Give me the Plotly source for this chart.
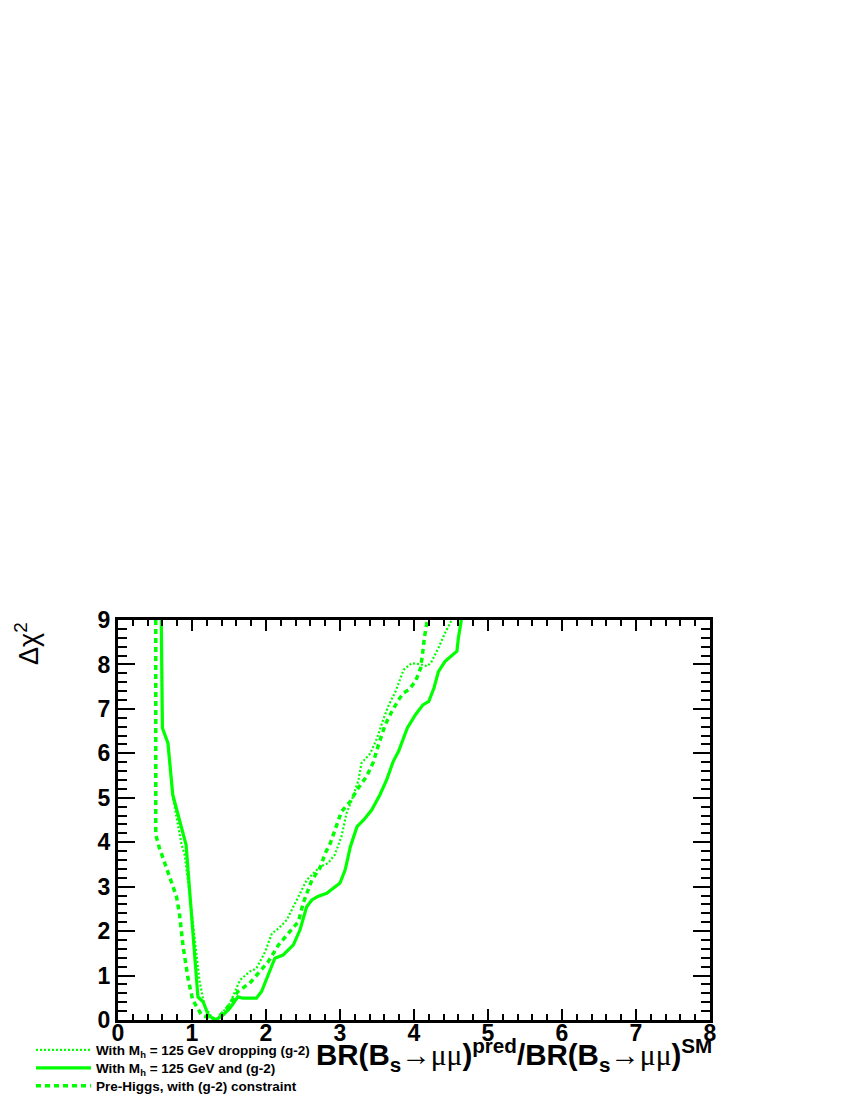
import plotly.graph_objects as go

# ---- data ----
solid_x = [0.585, 0.60, 0.675, 0.74, 0.92, 1.08, 1.15, 1.22, 1.31, 1.40, 1.51, 1.62, 1.69, 1.87,
           1.94, 2.12, 2.23, 2.37, 2.46, 2.55, 2.62, 2.70, 2.82, 3.0, 3.07, 3.14, 3.23, 3.32, 3.43,
           3.54, 3.63, 3.72, 3.79, 3.91, 4.02, 4.12, 4.20, 4.27, 4.33, 4.42, 4.58, 4.60, 4.64]
solid_y = [9.0, 6.57, 6.23, 5.07, 3.94, 0.52, 0.41, 0.11, 0.0, 0.08, 0.26, 0.52, 0.49, 0.49,
           0.64, 1.39, 1.46, 1.69, 2.03, 2.55, 2.70, 2.78, 2.85, 3.08, 3.38, 3.90, 4.35, 4.50, 4.73,
           5.07, 5.40, 5.82, 6.04, 6.57, 6.87, 7.09, 7.17, 7.47, 7.84, 8.07, 8.30, 8.60, 9.0]

dotted_x = [0.585, 0.60, 0.675, 0.74, 0.86, 0.90, 0.97, 1.05, 1.10, 1.17, 1.26, 1.33, 1.51, 1.65,
            1.78, 1.87, 1.99, 2.08, 2.17, 2.28, 2.37, 2.46, 2.55, 2.73, 2.84, 2.93, 3.02, 3.09,
            3.16, 3.25, 3.29, 3.41, 3.50, 3.59, 3.66, 3.75, 3.86, 3.97, 4.09, 4.18, 4.24, 4.33,
            4.42, 4.51]
dotted_y = [9.0, 6.57, 6.23, 5.03, 3.94, 3.72, 2.80, 1.60, 0.90, 0.30, 0.08, 0.0, 0.37, 0.90,
            1.09, 1.16, 1.54, 1.95, 2.06, 2.25, 2.55, 2.85, 3.15, 3.45, 3.53, 3.72, 4.13, 4.66,
            4.95, 5.40, 5.78, 6.00, 6.34, 6.79, 7.09, 7.39, 7.88, 8.03, 8.00, 7.96, 8.07, 8.37,
            8.71, 9.0]

dashed_x = [0.51, 0.51, 0.56, 0.72, 0.79, 0.83, 0.88, 0.95, 1.01, 1.13, 1.22, 1.32, 1.47, 1.62,
            1.78, 1.92, 2.03, 2.17, 2.30, 2.44, 2.50, 2.62, 2.73, 2.80, 2.87, 2.98, 3.02, 3.14,
            3.23, 3.36, 3.45, 3.52, 3.61, 3.70, 3.79, 3.86, 3.93, 4.02, 4.09, 4.12, 4.14, 4.18]
dashed_y = [9.0, 4.17, 3.87, 3.11, 2.78, 2.40, 1.65, 0.90, 0.45, 0.11, 0.05, 0.0, 0.26, 0.64,
            0.83, 1.09, 1.31, 1.69, 1.95, 2.22, 2.62, 3.15, 3.42, 3.75, 3.98, 4.50, 4.69, 4.92,
            5.18, 5.48, 5.80, 6.19, 6.64, 6.94, 7.20, 7.36, 7.43, 7.62, 7.92, 8.30, 8.60, 9.0]

names = ["With M<sub>h</sub> = 125 GeV dropping (g-2)",
         "With M<sub>h</sub> = 125 GeV and (g-2)",
         "Pre-Higgs, with (g-2) constraint"]

x_ticks = [0, 1, 2, 3, 4, 5, 6, 7, 8]
y_ticks = [0, 1, 2, 3, 4, 5, 6, 7, 8, 9]

GREEN = "#00ff00"
FONT = "Liberation Sans, Arial, sans-serif"

fig = go.Figure()
fig.add_trace(go.Scatter(x=dotted_x, y=dotted_y, mode="lines", name=names[0],
                         line=dict(color=GREEN, width=2.2, dash="2px,2px"), legend="legend"))
fig.add_trace(go.Scatter(x=solid_x, y=solid_y, mode="lines", name=names[1],
                         line=dict(color=GREEN, width=3.2), legend="legend2"))
fig.add_trace(go.Scatter(x=dashed_x, y=dashed_y, mode="lines", name=names[2],
                         line=dict(color=GREEN, width=3.5, dash="5px,4px"), legend="legend3"))

# page body margin of the html page is 8px; the figure is laid out in its own pixel frame
W, H = 834, 1090
L, T = 110, 612
pw, ph = 592, 400
R, B = W - L - pw, H - T - ph

def fx(p):  # figure-pixel x -> paper x
    return (p - L) / pw

def fy(p):  # figure-pixel y -> paper y
    return (T + ph - p) / ph

legfont = dict(family=FONT, size=13.5, color="black", weight="bold")
leg_common = dict(font=legfont, bgcolor="rgba(0,0,0,0)", borderwidth=0,
                  xanchor="left", yanchor="middle", itemwidth=55)

fig.update_layout(
    width=W, height=H,
    margin=dict(l=L, r=R, t=T, b=B, autoexpand=False),
    paper_bgcolor="white", plot_bgcolor="white",
    showlegend=True,
    legend=dict(x=fx(23), y=fy(1042), **leg_common),
    legend2=dict(x=fx(23), y=fy(1060), **leg_common),
    legend3=dict(x=fx(23), y=fy(1078), **leg_common),
    xaxis=dict(range=[0, 8], tickvals=x_ticks, ticks="inside", ticklen=11, tickwidth=2,
               tickcolor="black", showline=True, linewidth=3, linecolor="black",
               mirror="allticks", showgrid=False, zeroline=False,
               minor=dict(dtick=0.2, ticks="inside", ticklen=6, tickwidth=2, tickcolor="black",
                          showgrid=False),
               ticklabelstandoff=-10,
               tickfont=dict(family=FONT, size=23, color="black", weight="bold")),
    yaxis=dict(range=[0, 9], tickvals=y_ticks, ticks="inside", ticklen=17, tickwidth=2,
               tickcolor="black", showline=True, linewidth=3, linecolor="black",
               mirror="allticks", showgrid=False, zeroline=False,
               minor=dict(dtick=0.2, ticks="inside", ticklen=9, tickwidth=2, tickcolor="black",
                          showgrid=False),
               ticklabelstandoff=0,
               tickfont=dict(family=FONT, size=23, color="black", weight="bold")),
)

sym = '<span style="font-family:Liberation Serif;font-weight:normal">&#8594;&#956;&#956;</span>'
xtitle = ("<b>BR(B<sub>s</sub></b>" + sym + "<b>)<sup>pred</sup>/BR(B<sub>s</sub></b>" + sym +
          "<b>)<sup>SM</sup></b>")
fig.add_annotation(text=xtitle, xref="paper", yref="paper", x=fx(706), y=fy(1024),
                   xanchor="right", yanchor="top", showarrow=False,
                   font=dict(family=FONT, size=29.5, color="black"))
fig.add_annotation(text="&#916;&#967;<sup>2</sup>", xref="paper", yref="paper",
                   x=fx(0), y=fy(636), xanchor="left", yanchor="middle",
                   textangle=-90, showarrow=False,
                   font=dict(family=FONT, size=27, color="black"))

fig.write_html("out.html")
